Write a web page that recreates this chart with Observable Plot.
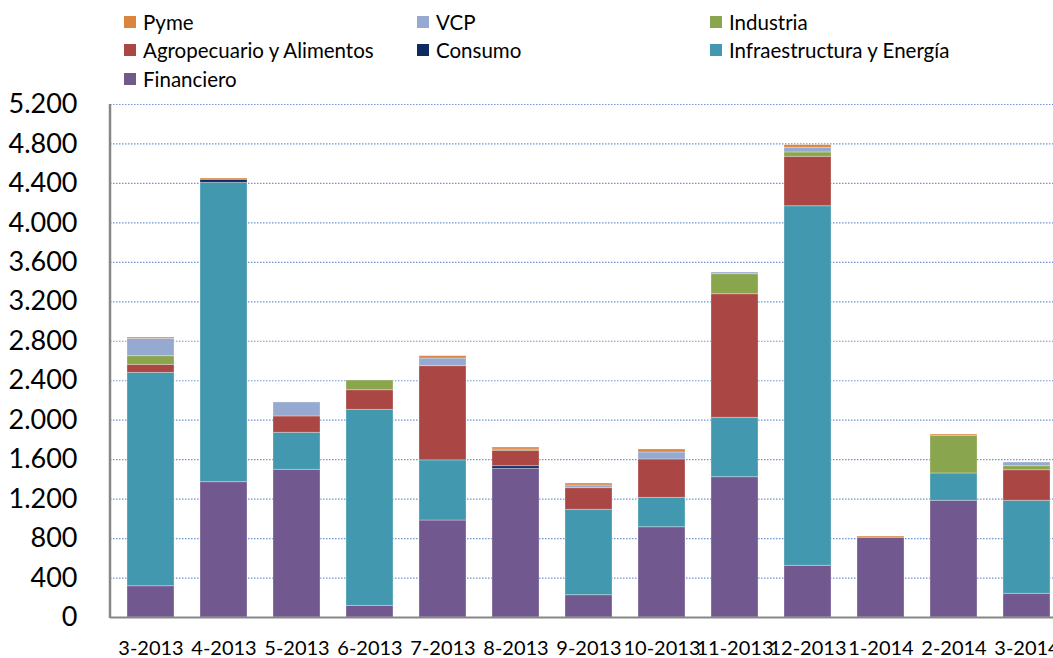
<!DOCTYPE html>
<html>
<head>
<meta charset="utf-8">
<script src="https://cdn.jsdelivr.net/npm/d3@7"></script>
<script src="https://cdn.jsdelivr.net/npm/@observablehq/plot@0.6"></script>
<style>
  html, body { margin: 0; padding: 0; overflow: hidden; background: #fff; width: 1053px; height: 658px; }
  body { font-family: Lato, "Noto Sans", sans-serif; }
  #legend { position: relative; height: 95px; width: 1053px; }
  .item { position: absolute; display: flex; align-items: center; font-size: 20.5px; color: #000; white-space: nowrap; }
  .sw { width: 12px; height: 12px; margin-right: 7px; }
  #chart { width: 1070px; }
  #chart svg { display: block; overflow: visible; max-width: none !important; width: 1070px; height: 563px !important; }
</style>
</head>
<body>
<div id="legend"></div>
<div id="chart"></div>
<script>
const months = ["3-2013","4-2013","5-2013","6-2013","7-2013","8-2013","9-2013","10-2013","11-2013","12-2013","1-2014","2-2014","3-2014"];
const seriesNames = ["Financiero","Infraestructura y Energía","Consumo","Agropecuario y Alimentos","Industria","VCP","Pyme"];
const financiero = [317,1372,1497,118,983,1507,226,915,1422,524,808,1183,240];
const infraestructura = [2163,3034,375,1987,610,0,866,298,602,3645,0,277,943];
const consumo = [0,31,0,0,0,27,0,0,0,0,0,0,0];
const agropecuario = [81,0,166,199,955,156,219,389,1253,501,0,0,310];
const industria = [88,0,0,98,0,13,0,0,203,44,0,382,41];
const vcp = [176,0,142,0,77,0,27,71,17,47,0,0,37];
const pyme = [13,13,0,0,24,20,20,30,0,27,13,13,0];
const seriesColors = ["#71588F","#4198AF","#0E2A63","#AA4643","#89A54E","#96A9D0","#DB843D"];
const yTicks = [0,400,800,1200,1600,2000,2400,2800,3200,3600,4000,4400,4800,5200];
const legendOrder = ["Pyme","VCP","Industria","Agropecuario y Alimentos","Consumo","Infraestructura y Energía","Financiero"];

const seriesValues = [financiero, infraestructura, consumo, agropecuario, industria, vcp, pyme];
const data = [];
seriesNames.forEach((s, i) => months.forEach((m, j) => data.push({month: m, serie: s, value: seriesValues[i][j]})));

// legend
const legend = document.getElementById("legend");
const colX = [124, 417, 710];
const rowY = [22, 50, 79];
legendOrder.forEach((name, k) => {
  const el = document.createElement("div");
  el.className = "item";
  el.style.left = colX[k % 3] + "px";
  el.style.top = (rowY[Math.floor(k / 3)] - 12) + "px";
  el.style.height = "24px";
  const sw = document.createElement("span");
  sw.className = "sw";
  sw.style.background = seriesColors[seriesNames.indexOf(name)];
  el.appendChild(sw);
  el.appendChild(document.createTextNode(name));
  legend.appendChild(el);
});

const loc = d3.formatLocale({decimal: ",", thousands: ".", grouping: [3], currency: ["", ""]});
const fmt = loc.format(",");

const axisLines = (index, scales, values, dims) => {
  const g = d3.create("svg:g");
  g.append("line")
    .attr("x1", dims.marginLeft).attr("x2", dims.marginLeft)
    .attr("y1", dims.marginTop).attr("y2", dims.height - dims.marginBottom + 1)
    .attr("stroke", "#878787").attr("stroke-width", 2.5);
  return g.node();
};

const chart = Plot.plot({
  width: 1070,
  height: 563,
  marginLeft: 110,
  marginRight: 4,
  marginTop: 9,
  marginBottom: 41,
  style: {fontFamily: "Lato, 'Noto Sans', sans-serif", color: "#000", background: "#fff"},
  x: {domain: months, paddingInner: 0.36, paddingOuter: 0.18, label: null},
  y: {domain: [0, 5200], label: null},
  color: {domain: seriesNames, range: seriesColors},
  marks: [
    Plot.ruleY(yTicks.filter(d => d > 0), {stroke: "#3F73C0", strokeWidth: 1.2, strokeDasharray: "1.5,1.5", strokeOpacity: 0.75}),
    Plot.barY(data, Plot.stackY({order: seriesNames}, {x: "month", y: "value", fill: "serie", stroke: "#fff", strokeOpacity: 0.3, strokeWidth: 1})),
    Plot.ruleY([0], {stroke: "#878787", strokeWidth: 2}),
    axisLines,
    Plot.axisY({ticks: yTicks, tickFormat: fmt, tickSize: 0, tickPadding: 33, fontSize: 27, label: null}),
    Plot.axisX({tickSize: 0, tickPadding: 23, fontSize: 20, label: null})
  ]
});
document.getElementById("chart").appendChild(chart);
</script>
</body>
</html>
